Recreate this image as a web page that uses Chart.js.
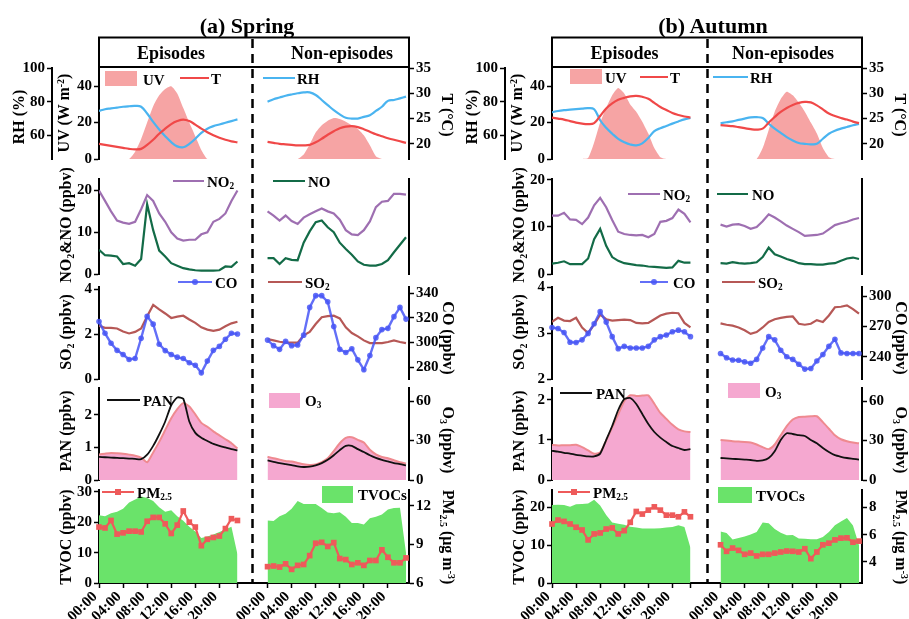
<!DOCTYPE html>
<html>
<head>
<meta charset="utf-8">
<title>Diurnal variations - Spring / Autumn</title>
<script src="https://cdn.jsdelivr.net/npm/chart.js@4.4.1/dist/chart.umd.min.js"></script>
<style>
  html, body { margin: 0; padding: 0; background: #fff; }
  #page { position: relative; width: 909px; height: 619px; overflow: hidden;
          font-family: "Liberation Serif", "Times New Roman", serif; font-weight: bold; color: #000; }
  #page canvas, #page svg { position: absolute; left: 0; top: 0; }
  .txt { position: absolute; white-space: nowrap; line-height: 1; }
  .sw { position: absolute; }
  sub { font-size: 0.62em; vertical-align: -0.3em; line-height: 0; }
  sup { font-size: 0.62em; vertical-align: 0.55em; line-height: 0; }
</style>
</head>
<body>
<div id="page"></div>
<script>
// hours of day, non-episode block is shifted right on the same x axis
const hours = [0, 1, 2, 3, 4, 5, 6, 7, 8, 9, 10, 11, 12, 13, 14, 15, 16, 17, 18, 19, 20, 21, 22, 23];
const nonOffset = 28;
const tickHours = [0, 4, 8, 12, 16, 20];
const tickLabels = ['00:00', '04:00', '08:00', '12:00', '16:00', '20:00'];

// ---- spring ----
const sprEpiUV = [0, 0, 0, 0, 0, 0, 4, 11, 20, 29, 35, 38.5, 40, 36, 28, 20, 12.5, 5, 0, 0, 0, 0, 0, 0];
const sprNonUV = [0, 0, 0, 0, 0, 0, 2.5, 8, 14.5, 18.5, 21, 22.5, 22, 20.5, 18.5, 16.5, 13, 7.5, 1.5, 0, 0, 0, 0, 0];
const sprEpiT = [20.0, 19.8, 19.6, 19.4, 19.2, 19.0, 18.9, 19.0, 19.8, 20.8, 22.0, 23.0, 23.9, 24.5, 24.8, 24.5, 23.8, 23.0, 22.3, 21.7, 21.2, 20.8, 20.5, 20.3];
const sprNonT = [20.4, 20.2, 20.0, 19.9, 19.8, 19.7, 19.7, 19.8, 20.3, 21.0, 21.8, 22.5, 23.1, 23.4, 23.5, 23.3, 22.9, 22.4, 21.9, 21.5, 21.1, 20.8, 20.5, 20.2];
const sprEpiRH = [74.5, 75.5, 76, 76.5, 77, 77.3, 77.5, 77, 73, 68, 63.5, 59.5, 56, 53.5, 53, 55, 58, 61.5, 64, 65.5, 66.5, 67.5, 68.5, 69.5];
const sprNonRH = [80, 81.5, 82.5, 83.5, 84.3, 85, 85.5, 85.5, 84, 81, 78, 75, 72.5, 70.5, 70, 70, 71, 72, 74.5, 77, 80.5, 81, 82, 83];
const sprEpiNO2 = [20, 17.5, 15, 12.8, 12.3, 12, 12.5, 15.5, 18.9, 17.5, 14.5, 12.5, 10, 8.5, 8, 8.2, 8.2, 9.5, 10, 12.5, 13.2, 14.5, 17.5, 20];
const sprNonNO2 = [15, 14, 12.8, 14, 12.7, 12, 13.5, 14.3, 15, 15.7, 15, 14.5, 13, 10.5, 9.5, 9.3, 10.5, 12.6, 16, 17.3, 17.5, 19.2, 19.2, 19];
const sprEpiNO = [5.8, 4.5, 4.4, 4.2, 2.4, 2.6, 2.0, 3.6, 16.7, 10.5, 5.6, 4.2, 2.6, 2.0, 1.4, 1.1, 0.9, 0.8, 0.8, 0.8, 0.9, 1.8, 1.7, 3.0];
const sprNonNO = [3.8, 3.8, 2.4, 3.8, 3.4, 3.3, 7.5, 10.2, 12.4, 12.8, 11.2, 10, 7.5, 6, 4.6, 3, 2.2, 2, 2, 2.4, 3.3, 5.2, 7, 8.8];
const sprEpiSO2 = [2.37, 2.28, 2.28, 2.25, 2.12, 2.03, 2.1, 2.25, 2.8, 3.3, 3.1, 2.92, 2.72, 2.78, 2.82, 2.65, 2.5, 2.3, 2.2, 2.15, 2.2, 2.35, 2.48, 2.55];
const sprNonSO2 = [1.78, 1.72, 1.66, 1.62, 1.62, 1.62, 1.95, 2.1, 2.45, 2.75, 2.8, 2.82, 2.7, 2.3, 2.05, 1.9, 1.72, 1.6, 1.6, 1.6, 1.65, 1.72, 1.65, 1.6];
const sprEpiCO = [317, 307.5, 299.5, 293.7, 290.3, 286.3, 287.1, 303.5, 321.2, 314.9, 298.7, 293.5, 290.3, 288.2, 287.1, 283.7, 281.6, 275.5, 285, 293.7, 296.9, 302.7, 307.5, 306.9];
const sprNonCO = [302, 297.5, 294.5, 301, 297.5, 298, 306, 328.5, 338, 338, 333, 313, 294.5, 292, 295, 286, 278, 289.5, 304, 310.5, 311.5, 321, 328.5, 319];
const sprEpiPAN = [0.71, 0.7, 0.69, 0.68, 0.67, 0.66, 0.65, 0.64, 0.78, 1.05, 1.4, 1.8, 2.3, 2.54, 2.5, 1.8, 1.45, 1.3, 1.2, 1.11, 1.05, 1.0, 0.95, 0.91];
const sprNonPAN = [0.6, 0.56, 0.52, 0.49, 0.46, 0.42, 0.4, 0.41, 0.45, 0.52, 0.62, 0.76, 0.92, 1.05, 1.05, 0.95, 0.86, 0.76, 0.68, 0.62, 0.57, 0.52, 0.49, 0.45];
const sprEpiO3 = [19.4, 20, 20.5, 20.3, 20, 19.3, 18.5, 17, 13.5, 21, 29, 38, 47, 54, 58.5, 56, 50, 43.5, 40.5, 37, 34, 31, 28, 24];
const sprNonO3 = [17.7, 16.5, 15.5, 14.5, 14, 13, 12, 11.5, 11.8, 13.5, 16.5, 22, 28, 32, 32.5, 30.5, 28.5, 23, 19.5, 17.5, 16.5, 15, 13.5, 12.5];
const sprEpiTVOC = [22.3, 22, 23, 23.5, 24.5, 26.5, 27.5, 28.5, 28, 27, 25, 23.5, 24, 22, 20.5, 18.5, 17, 14.8, 15.3, 16, 16.8, 17.6, 18.5, 9.5];
const sprNonTVOC = [20.6, 20.4, 22, 22.8, 24.5, 27, 26, 26, 26, 24.7, 23.2, 23, 23.3, 21.8, 19.8, 19.8, 19.3, 21.3, 21.8, 22.6, 24.2, 24.7, 24.8, 10];
const sprEpiPM = [10.35, 10.28, 10.86, 9.8, 9.9, 10.03, 10.03, 9.97, 10.8, 11.1, 11.1, 10.6, 9.85, 10.5, 11.6, 10.73, 10.35, 8.9, 9.4, 9.54, 9.65, 10.23, 11, 10.86];
const sprNonPM = [7.27, 7.32, 7.24, 7.49, 7.06, 7.37, 7.44, 8.13, 9.09, 9.16, 8.84, 9.14, 7.9, 7.82, 7.44, 7.57, 7.37, 7.75, 7.75, 8.58, 8.0, 7.57, 7.57, 7.95];

// ---- autumn ----
const autEpiUV = [0, 0, 0, 0, 0, 0, 0.5, 9, 20, 28, 35, 39, 36, 30, 26, 20.5, 14, 6, 1, 0, 0, 0, 0, 0];
const autNonUV = [0, 0, 0, 0, 0, 0, 0, 6, 16, 26, 33, 37, 35, 31, 26, 20, 14, 6, 1, 0, 0, 0, 0, 0];
const autEpiT = [25.2, 25, 24.8, 24.5, 24.2, 24, 23.9, 24.1, 25.5, 27, 28, 28.7, 29.1, 29.4, 29.5, 29.3, 28.9, 28.1, 27.3, 26.7, 26.1, 25.7, 25.4, 25.2];
const autNonT = [23.7, 23.6, 23.5, 23.3, 23.1, 22.9, 22.8, 23, 24.2, 25.3, 26.3, 27.1, 27.7, 28.1, 28.3, 28.2, 27.6, 26.8, 26, 25.5, 25.1, 24.8, 24.4, 24.1];
const autEpiRH = [73.7, 74.5, 75, 75.3, 75.6, 75.9, 76.2, 75.5, 69, 64.5, 61, 58, 56, 54.6, 54.1, 55.3, 58.5, 62.5, 64.3, 65.6, 67, 68.3, 69.5, 70.3];
const autNonRH = [67.2, 67.8, 68.3, 69.2, 70, 70.7, 70.8, 70.3, 67, 64, 61.5, 59, 57, 55.5, 55, 54.7, 55, 58, 61, 62.8, 64, 65, 66, 66.8];
const autEpiNO2 = [12.4, 12.4, 13, 11.6, 11.5, 10.6, 12, 14.6, 16.2, 14.2, 11.5, 9, 8.5, 8.3, 8.2, 8.3, 7.8, 8.5, 11.1, 11.3, 11.9, 13.7, 12.8, 11];
const autNonNO2 = [10.5, 10.1, 10.5, 10.6, 10.2, 9.6, 10, 11.2, 12.7, 12, 11.2, 10.3, 9.6, 8.9, 8.1, 8.2, 8.3, 8.6, 9.5, 10.4, 10.8, 11.1, 11.6, 11.9];
const autEpiNO = [2.2, 2.4, 2.7, 2.1, 2.1, 2.1, 3.3, 7.4, 9.6, 6, 3.6, 2.8, 2.3, 2.1, 1.9, 1.8, 1.6, 1.5, 1.4, 1.3, 1.4, 2.8, 2.4, 2.4];
const autNonNO = [2.3, 2.2, 2.5, 2.3, 2.2, 2.3, 2.5, 3.6, 5.6, 4.2, 3.7, 3.2, 2.8, 2.3, 2.1, 2.1, 2.0, 2.0, 2.2, 2.3, 2.8, 3.3, 3.5, 3.2];
const autEpiSO2 = [3.24, 3.33, 3.27, 3.26, 3.33, 3.12, 3.0, 3.18, 3.4, 3.3, 3.27, 3.28, 3.29, 3.28, 3.22, 3.21, 3.22, 3.3, 3.38, 3.42, 3.44, 3.43, 3.22, 3.12];
const autNonSO2 = [3.21, 3.18, 3.16, 3.12, 3.06, 2.98, 3.02, 3.12, 3.24, 3.3, 3.33, 3.35, 3.36, 3.2, 3.18, 3.2, 3.28, 3.24, 3.38, 3.56, 3.57, 3.6, 3.52, 3.42];
const autEpiCO = [268.9, 267.9, 264, 254.4, 254.1, 256.7, 263.1, 272.7, 284.6, 274.3, 259.9, 248, 250.3, 248.7, 248.7, 248.7, 250.3, 256.7, 259.9, 261.5, 264.7, 266.3, 264.7, 259.9];
const autNonCO = [243.2, 239, 236.8, 236.5, 234.9, 233.6, 237.4, 248.7, 259.9, 256.7, 246.4, 240, 237.4, 232.6, 227.8, 228.4, 235.8, 242.2, 250.3, 257.3, 243.8, 243.2, 243.2, 243.2];
const autEpiPAN = [0.73, 0.71, 0.68, 0.66, 0.63, 0.61, 0.59, 0.59, 0.66, 1.0, 1.35, 1.75, 2.02, 2.05, 1.9, 1.65, 1.4, 1.2, 1.06, 0.95, 0.85, 0.8, 0.75, 0.77];
const autNonPAN = [0.55, 0.54, 0.53, 0.52, 0.51, 0.5, 0.48, 0.49, 0.55, 0.72, 1.0, 1.17, 1.15, 1.12, 1.1, 1.0, 0.92, 0.8, 0.7, 0.62, 0.58, 0.55, 0.53, 0.51];
const autEpiO3 = [26.7, 26.2, 26.5, 26.5, 26.8, 25, 22.5, 20, 21, 30, 40, 50, 60, 64.5, 64, 64.2, 64.4, 58, 51, 46.5, 42, 38.5, 37, 36.5];
const autNonO3 = [30.4, 30, 29.5, 29.2, 29, 28.5, 27, 25, 23.5, 27, 34, 41, 46, 48, 48.2, 48.5, 48.5, 44, 39, 34, 31, 29.5, 28.5, 27.9];
const autEpiTVOC = [20.6, 20.7, 20.6, 20.2, 20.8, 20.9, 21, 22, 20.5, 18, 16, 15.7, 15.4, 14.9, 14.7, 14.4, 14.4, 14.4, 14.5, 14.7, 14.8, 15.3, 14.8, 9.3];
const autNonTVOC = [13.6, 13.2, 11.5, 11.9, 12.3, 12.8, 13.5, 16, 15.8, 14.3, 13.3, 12.6, 12.7, 11.8, 11.7, 11.6, 11.6, 12.2, 13.5, 15.3, 16.3, 17.2, 15.2, 10];
const autEpiPM = [6.79, 7.08, 6.98, 6.79, 6.55, 6.35, 5.62, 6.06, 6.13, 6.42, 6.5, 6.06, 6.3, 6.91, 7.71, 7.52, 7.81, 8.05, 7.81, 7.44, 7.44, 7.32, 7.68, 7.32];
const autNonPM = [5.26, 4.78, 5.02, 4.85, 4.56, 4.65, 4.44, 4.56, 4.56, 4.65, 4.73, 4.8, 4.78, 4.73, 4.97, 4.24, 4.73, 5.26, 5.38, 5.62, 5.75, 5.77, 5.45, 5.53];

const col = {
  uv: '#f6a4a4', t: '#f04848', rh: '#4ab4f0', no2: '#9e6fb1', no: '#136b47',
  co: 'rgba(72,86,246,0.85)', so2: '#b65856', pan: '#111111', o3: '#f5a8d0', o3Edge: '#ef8a90',
  tvoc: '#6ae36a', pm: '#ee5a5a'
};

const page = document.getElementById('page');
const rowTop = [67, 178, 286, 387, 489];
const rowBottom = [160, 275, 380, 481, 583];
const PAD = 10;
const CW = 456;
const tickFont = { family: 'Liberation Serif', weight: 'bold', size: 15 };
const xTicks = tickHours.concat([23], tickHours.map(h => h + nonOffset));

function series(epi, non) {
  return [hours.map((h, i) => ({ x: h, y: epi[i] })),
          hours.map((h, i) => ({ x: h + nonOffset, y: non[i] }))];
}
function sets(epi, non, axis, style) {
  return series(epi, non).map(d => Object.assign({ data: d, yAxisID: axis }, style));
}
const line = (c, w, tension) => ({ borderColor: c, backgroundColor: c, borderWidth: w,
  pointRadius: 0, fill: false, tension: tension || 0, order: 1 });
const marked = (c, w, style, r) => ({ borderColor: c, backgroundColor: c, borderWidth: w,
  pointRadius: r, pointStyle: style, pointBorderWidth: 0, fill: false, order: 0, clip: 8 });
const area = (c, edge, w, tension) => ({ backgroundColor: c, borderColor: edge || c, borderWidth: w || 0,
  pointRadius: 0, fill: 'origin', tension: tension || 0, order: 2 });

function yAxis(position, min, max, ticks, width, weight) {
  return {
    type: 'linear', position, min, max, weight: weight || 0,
    afterBuildTicks: s => { s.ticks = ticks.map(v => ({ value: v })); },
    afterFit: s => { s.width = width; },
    border: { display: true, color: '#000', width: 2 },
    grid: { display: true, drawOnChartArea: false, drawTicks: ticks.length > 0, tickLength: 5,
            tickWidth: 1.5, tickColor: '#000', color: '#000' },
    ticks: { display: ticks.length > 0, autoSkip: false, color: '#000', padding: 2, font: tickFont }
  };
}

// shared hour axis; only the bottom row shows it
function xAxis(show) {
  return {
    type: 'linear', min: 0, max: 51.5, display: show,
    afterBuildTicks: s => { s.ticks = xTicks.map(v => ({ value: v })); },
    afterFit: s => { s.height = show ? 619 - 583 : 0; },
    border: { display: true, color: '#000', width: 2 },
    grid: { display: true, drawOnChartArea: false, tickLength: 5, tickWidth: 1.5, tickColor: '#000', color: '#000' },
    ticks: {
      autoSkip: false, minRotation: 45, maxRotation: 45, labelOffset: -4, padding: 0,
      color: '#000', font: tickFont,
      callback: v => {
        let i = tickHours.indexOf(v);
        if (i >= 0) return tickLabels[i];
        i = tickHours.indexOf(v - nonOffset);
        return i >= 0 ? tickLabels[i] : '';
      }
    }
  };
}

function rowChart(left, row, datasets, scales) {
  const last = row === 4;
  const top = rowTop[row] - PAD;
  const h = last ? 619 - top : rowBottom[row] - rowTop[row] + 2 * PAD;
  const cv = document.createElement('canvas');
  cv.width = CW; cv.height = h;
  cv.style.left = left + 'px'; cv.style.top = top + 'px';
  cv.style.width = CW + 'px'; cv.style.height = h + 'px';
  page.appendChild(cv);
  scales.x = xAxis(last);
  new Chart(cv, {
    type: 'line',
    data: { datasets },
    options: {
      responsive: false, animation: false, events: [],
      layout: { padding: { top: PAD, bottom: last ? 0 : PAD, left: 0, right: 0 } },
      plugins: { legend: { display: false }, tooltip: { enabled: false } },
      scales
    }
  });
}

function drawSeason(s) {
  const L = s.left;
  rowChart(L, 0, [
    ...sets(s.t[0], s.t[1], 'temp', line(col.t, 2.2, 0.4)),
    ...sets(s.rh[0], s.rh[1], 'hum', line(col.rh, 2.2, 0.4)),
    ...sets(s.uv[0], s.uv[1], 'uv', area(col.uv, null, 0, 0.2))
  ], {
    hum: yAxis('left', 46, 100, [60, 80, 100], 52, 1),
    uv: yAxis('left', 0, 50, [0, 20, 40], 47, 0),
    temp: yAxis('right', 17, 35, [20, 25, 30, 35], 47)
  });
  rowChart(L, 1, [
    ...sets(s.no2[0], s.no2[1], 'y', line(col.no2, 2.2)),
    ...sets(s.no[0], s.no[1], 'y', line(col.no, 2.2))
  ], {
    y: yAxis('left', 0, s.noxMax, [0, 10, 20], 99),
    y2: yAxis('right', 0, 1, [], 47)
  });
  rowChart(L, 2, [
    ...sets(s.so2[0], s.so2[1], 'y', line(col.so2, 2.2)),
    ...sets(s.co[0], s.co[1], 'y2', marked(col.co, 2.4, 'circle', 2.8))
  ], {
    y: yAxis('left', s.so2Axis[0], s.so2Axis[1], s.so2Axis[2], 99),
    y2: yAxis('right', s.coAxis[0], s.coAxis[1], s.coAxis[2], 47)
  });
  rowChart(L, 3, [
    ...sets(s.pan[0], s.pan[1], 'y', line(col.pan, 1.8, 0.2)),
    ...sets(s.o3[0], s.o3[1], 'y2', area(col.o3, col.o3Edge, 2, 0.2))
  ], {
    y: yAxis('left', 0, s.panMax, [0, 1, 2], 99),
    y2: yAxis('right', 0, 70, [0, 30, 60], 47)
  });
  rowChart(L, 4, [
    ...sets(s.tvoc[0], s.tvoc[1], 'y', area(col.tvoc)),
    ...sets(s.pm[0], s.pm[1], 'y2', marked(col.pm, 2.2, 'rect', 4))
  ], {
    y: yAxis('left', 0, s.tvocAxis[0], s.tvocAxis[1], 99),
    y2: yAxis('right', s.pmAxis[0], s.pmAxis[1], s.pmAxis[2], 47)
  });
}

drawSeason({
  left: 0,
  uv: [sprEpiUV, sprNonUV], t: [sprEpiT, sprNonT], rh: [sprEpiRH, sprNonRH],
  no2: [sprEpiNO2, sprNonNO2], no: [sprEpiNO, sprNonNO], noxMax: 22.75,
  so2: [sprEpiSO2, sprNonSO2], co: [sprEpiCO, sprNonCO],
  so2Axis: [0, 4.1, [0, 2, 4]], coAxis: [270.5, 345, [280, 300, 320, 340]],
  pan: [sprEpiPAN, sprNonPAN], o3: [sprEpiO3, sprNonO3], panMax: 2.83,
  tvoc: [sprEpiTVOC, sprNonTVOC], pm: [sprEpiPM, sprNonPM],
  tvocAxis: [30.65, [0, 10, 20, 30]], pmAxis: [6, 13.23, [6, 9, 12]]
});
drawSeason({
  left: 453,
  uv: [autEpiUV, autNonUV], t: [autEpiT, autNonT], rh: [autEpiRH, autNonRH],
  no2: [autEpiNO2, autNonNO2], no: [autEpiNO, autNonNO], noxMax: 20.2,
  so2: [autEpiSO2, autNonSO2], co: [autEpiCO, autNonCO],
  so2Axis: [2, 4, [2, 3, 4]], coAxis: [218, 309, [240, 270, 300]],
  pan: [autEpiPAN, autNonPAN], o3: [autEpiO3, autNonO3], panMax: 2.3,
  tvoc: [autEpiTVOC, autNonTVOC], pm: [autEpiPM, autNonPM],
  tvocAxis: [24.6, [0, 10, 20]], pmAxis: [2.45, 9.29, [4, 6, 8]]
});

// ---- header boxes and the dashed episode / non-episode divider ----
const NS = 'http://www.w3.org/2000/svg';
const svg = document.createElementNS(NS, 'svg');
svg.setAttribute('width', 909); svg.setAttribute('height', 619);
page.appendChild(svg);
function svgEl(tag, attrs) {
  const e = document.createElementNS(NS, tag);
  for (const k in attrs) e.setAttribute(k, attrs[k]);
  svg.appendChild(e);
}
[[99, 252.5], [552, 707.5]].forEach(([bx, dx]) => {
  svgEl('rect', { x: bx, y: 37.5, width: 310, height: 29.5, fill: 'none', stroke: '#000', 'stroke-width': 2 });
  svgEl('line', { x1: dx, y1: 39, x2: dx, y2: 584, stroke: '#000', 'stroke-width': 2.5, 'stroke-dasharray': '9 6' });
});

function text(html, x, y, size, center) {
  const d = document.createElement('div');
  d.className = 'txt';
  d.innerHTML = html;
  d.style.left = x + 'px'; d.style.top = y + 'px'; d.style.fontSize = size + 'px';
  d.style.transform = center ? 'translate(-50%,-50%)' : 'translate(0,-50%)';
  page.appendChild(d);
  return d;
}
function axisTitle(html, x, y, rot) {
  const d = text(html, x, y, 16, true);
  d.style.transform = 'translate(-50%,-50%) rotate(' + rot + 'deg)';
}

text('(a) Spring', 247, 26, 22, true);
text('(b) Autumn', 713, 26, 22, true);
text('Episodes', 171, 53, 18, true);
text('Non-episodes', 342, 53, 18, true);
text('Episodes', 624.5, 53, 18, true);
text('Non-episodes', 783, 53, 18, true);

const leftTitles = [
  ['RH (%)', 19, 117], ['UV (W m<sup>-2</sup>)', 64, 113], ['NO<sub>2</sub>&amp;NO (ppbv)', 66, 225],
  ['SO<sub>2</sub> (ppbv)', 66, 332], ['PAN (ppbv)', 66, 431], ['TVOC (ppbv)', 66, 537]
];
const rightTitles = [
  ['T (°C)', 447, 115], ['CO (ppbv)', 448, 338], ['O<sub>3</sub> (ppbv)', 448, 440],
  ['PM<sub>2.5</sub> (μg m<sup>-3</sup>)', 448, 537]
];
[0, 453].forEach(off => {
  leftTitles.forEach(([t, x, y]) => axisTitle(t, x + off, y, -90));
  rightTitles.forEach(([t, x, y]) => axisTitle(t, x + off, y, 90));
});

// legend entries: kind, colour, x from, x to, y centre, label, label x, box height
function swatch(x, y, w, h, c, round) {
  const d = document.createElement('div');
  d.className = 'sw';
  d.style.left = x + 'px'; d.style.top = y + 'px'; d.style.width = w + 'px'; d.style.height = h + 'px';
  d.style.background = c;
  if (round) d.style.borderRadius = '50%';
  page.appendChild(d);
}
function legendItem([kind, c, x1, x2, y, label, tx, bh]) {
  if (kind === 'box') {
    swatch(x1, y - bh / 2, x2 - x1, bh, c);
  } else {
    swatch(x1, y - 1.25, x2 - x1, 2.5, c);
    const m = (x1 + x2) / 2;
    if (kind === 'dot') swatch(m - 3, y - 3, 6, 6, c, true);
    if (kind === 'square') swatch(m - 3, y - 3, 6, 6, c);
  }
  text(label, tx, y + 1, 15, false);
}
const sprLegend = [
  ['box', col.uv, 105, 137, 78.5, 'UV', 143, 15],
  ['line', col.t, 180, 209, 78, 'T', 211],
  ['line', col.rh, 263, 295, 78, 'RH', 297],
  ['line', col.no2, 173, 204, 181, 'NO<sub>2</sub>', 207],
  ['line', col.no, 273, 305, 181, 'NO', 308],
  ['dot', col.co, 178, 212, 282, 'CO', 215],
  ['line', col.so2, 268, 302, 282, 'SO<sub>2</sub>', 305],
  ['line', col.pan, 107, 140, 400, 'PAN', 143],
  ['box', col.o3, 269, 300, 400, 'O<sub>3</sub>', 305, 15],
  ['square', col.pm, 102, 134, 492, 'PM<sub>2.5</sub>', 137],
  ['box', col.tvoc, 322, 353, 494, 'TVOCs', 358, 17]
];
const autLegend = [
  ['box', col.uv, 570, 602, 76.5, 'UV', 605, 15],
  ['line', col.t, 640, 668, 77, 'T', 670],
  ['line', col.rh, 713, 748, 77, 'RH', 750],
  ['line', col.no2, 628, 660, 194, 'NO<sub>2</sub>', 663],
  ['line', col.no, 717, 748, 194, 'NO', 752],
  ['dot', col.co, 640, 668, 282, 'CO', 673],
  ['line', col.so2, 722, 755, 282, 'SO<sub>2</sub>', 758],
  ['line', col.pan, 560, 592, 393, 'PAN', 596],
  ['box', col.o3, 728, 760, 390.5, 'O<sub>3</sub>', 765, 15],
  ['square', col.pm, 558, 590, 492, 'PM<sub>2.5</sub>', 593],
  ['box', col.tvoc, 718, 752, 495, 'TVOCs', 756, 16]
];
sprLegend.concat(autLegend).forEach(legendItem);
</script>
</body>
</html>
